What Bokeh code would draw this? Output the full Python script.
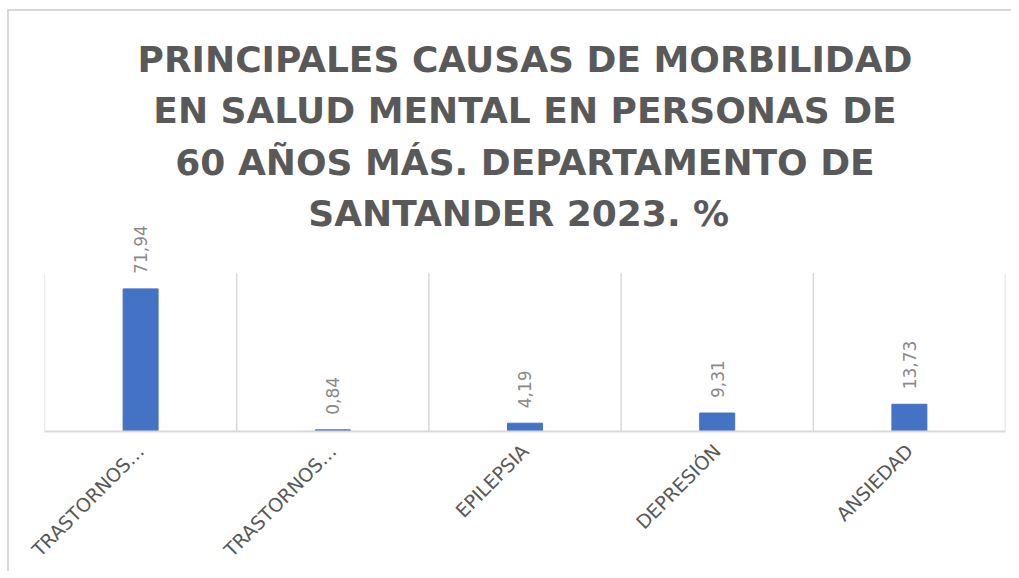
from math import pi
from bokeh.plotting import figure
from bokeh.models import (ColumnDataSource, Range1d, FixedTicker, LabelSet, Title)
from bokeh.core.properties import value
from bokeh.embed import file_html
from bokeh.resources import INLINE

# ---- data ----
categories = ["TRASTORNOS…", "TRASTORNOS…", "EPILEPSIA", "DEPRESIÓN", "ANSIEDAD"]
values = [71.94, 0.84, 4.19, 9.31, 13.73]
y_axis_max = 80
title_lines = [
    "PRINCIPALES CAUSAS DE MORBILIDAD",
    "EN SALUD MENTAL EN PERSONAS DE",
    "60 AÑOS MÁS. DEPARTAMENTO DE",
    "SANTANDER 2023.  %",
]

FONT = "DejaVu Sans"
GRID = "#d9d9d9"

xs = list(range(len(categories)))
labels = [f"{v:.2f}".replace(".", ",") for v in values]
src = ColumnDataSource(dict(x=xs, top=values, label=labels))

# frame layout (pixels): grid part of the frame is 158.6 px tall, extra room on top for labels
grid_px = 158.6
frame_h = 211
y_end = y_axis_max * frame_h / grid_px

p = figure(frame_width=961, frame_height=frame_h, output_backend="svg", toolbar_location=None,
           x_range=Range1d(-0.5, len(categories) - 0.5), y_range=Range1d(0, y_end),
           min_border_left=35, min_border_right=6, min_border_top=209, min_border_bottom=0)
p.styles = {"border-top": "2px solid #d9d9d9", "border-left": "2px solid #d9d9d9",
            "margin-left": "7px", "margin-top": "9px"}

# title lines, added innermost first
standoffs = [-27, 44, -27, 44]
for line, so in zip(reversed(title_lines), standoffs):
    p.add_layout(Title(text=line, align="center", text_font=FONT, text_font_size="36px",
                       text_font_style="bold", text_color="#595959", standoff=so,
                       offset=-13), "above")

# vertical category separators (Excel-style gridlines)
bounds = [i - 0.5 for i in range(len(categories) + 1)]
p.segment(x0=bounds, y0=[0] * len(bounds), x1=bounds, y1=[y_axis_max] * len(bounds),
          line_color=GRID, line_width=1.5)

p.vbar(x="x", top="top", width=0.182, source=src, color="#4472C4")

lab = LabelSet(x="x", y="top", text="label", source=src, angle=pi / 2,
               text_align="left", text_baseline="middle", y_offset=15,
               text_font=value(FONT), text_font_size=value("17px"),
               text_color=value("#898989"))
p.add_layout(lab)

p.yaxis.visible = False
p.xgrid.visible = False
p.ygrid.visible = False
p.outline_line_color = None

ax = p.xaxis[0]
ax.ticker = FixedTicker(ticks=xs)
ax.major_label_overrides = {i: c for i, c in zip(xs, categories)}
ax.major_label_orientation = pi / 4
ax.major_label_text_font = FONT
ax.major_label_text_font_size = "19px"
ax.major_label_text_color = "#595959"
ax.axis_line_color = GRID
ax.axis_line_width = 2
ax.major_tick_line_color = None
ax.minor_tick_line_color = None
ax.major_label_standoff = 10

open("out.html", "w").write(file_html(p, INLINE))
